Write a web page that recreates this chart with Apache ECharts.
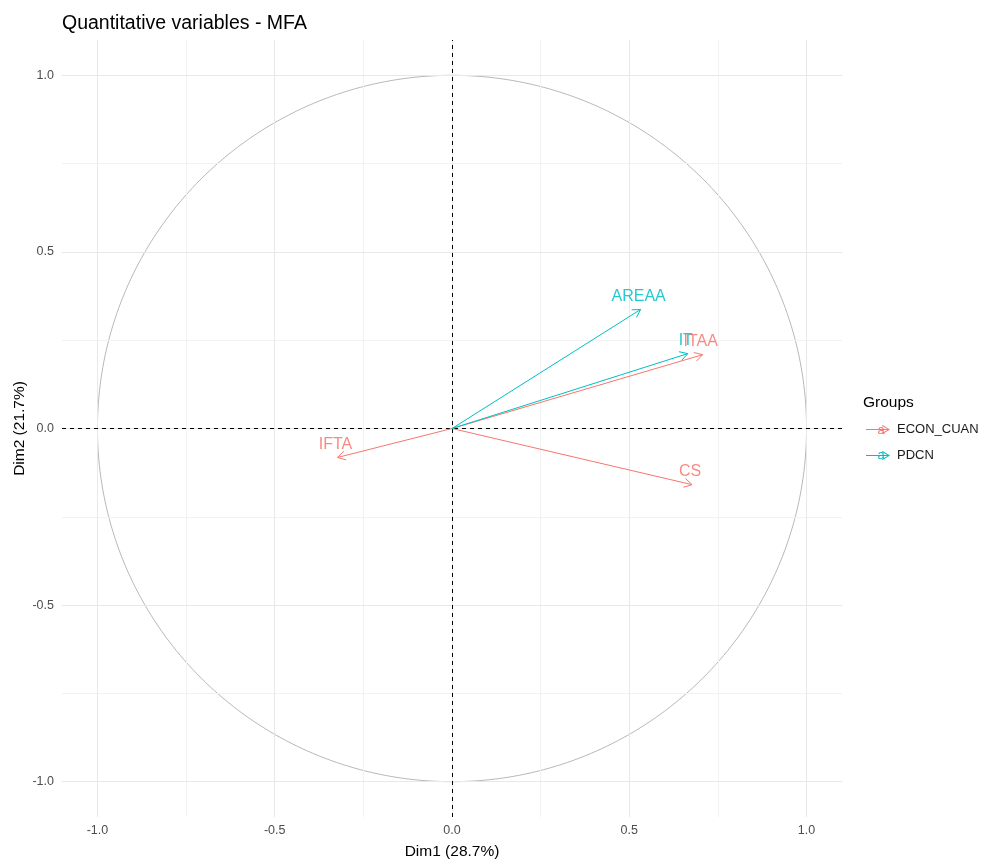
<!DOCTYPE html>
<html>
<head>
<meta charset="utf-8">
<script src="https://cdn.jsdelivr.net/npm/echarts@6/dist/echarts.min.js"></script>
<style>html,body{margin:0;padding:0;background:#fff}#c{width:984px;height:859px}</style>
</head>
<body>
<div id="c"></div>
<script>
// ---- data ----
const groups = ['ECON_CUAN', 'PDCN'];
const groupColors = ['#F8766D', '#00BFC4'];
const econNames = ['ITAA', 'IFTA', 'CS'];
const econDim1 = [0.707, -0.323, 0.677];
const econDim2 = [0.209, -0.082, -0.159];
const pdcnNames = ['AREAA', 'IT'];
const pdcnDim1 = [0.532, 0.665];
const pdcnDim2 = [0.337, 0.212];
const majorTicks = [-1, -0.5, 0, 0.5, 1];
const minorTicks = [-0.75, -0.25, 0.25, 0.75];
const tickLabels = ['-1.0', '-0.5', '0.0', '0.5', '1.0'];
const axisMin = -1.1, axisMax = 1.1;

const font = 'Liberation Sans, Arial, sans-serif';

function arrowSeries(name, color, names, d1, d2) {
  return {
    name: name,
    type: 'custom',
    coordinateSystem: 'cartesian2d',
    itemStyle: { color: color },
    z: 10,
    data: names.map((n, i) => [d1[i], d2[i], n]),
    renderItem: function (params, api) {
      const s = api.coord([0, 0]);
      const e = api.coord([api.value(0), api.value(1)]);
      const ang = Math.atan2(e[1] - s[1], e[0] - s[0]);
      const L = 9, a = Math.PI / 6;
      const h1 = [e[0] - L * Math.cos(ang - a), e[1] - L * Math.sin(ang - a)];
      const h2 = [e[0] - L * Math.cos(ang + a), e[1] - L * Math.sin(ang + a)];
      const label = names[params.dataIndex];
      return {
        type: 'group',
        children: [
          { type: 'line', shape: { x1: s[0], y1: s[1], x2: e[0], y2: e[1] }, style: { stroke: color, lineWidth: 1 } },
          { type: 'polyline', shape: { points: [h1, e, h2] }, style: { stroke: color, lineWidth: 1, fill: null } },
          { type: 'text', x: e[0] - 2, y: e[1] - 5, style: { text: label, fill: color, opacity: 0.85, font: '16px ' + font, align: 'center', verticalAlign: 'bottom' } }
        ]
      };
    }
  };
}

function gridLines(vals, color) {
  const d = [];
  vals.forEach(v => { d.push({ xAxis: v }); d.push({ yAxis: v }); });
  return {
    type: 'line', data: [], silent: true, z: 1,
    markLine: { silent: true, symbol: 'none', label: { show: false }, animation: false,
      lineStyle: { color: color, width: 1, type: 'solid' }, data: d }
  };
}

const circle = [];
for (let i = 0; i <= 360; i++) {
  const t = i * Math.PI / 180;
  circle.push([Math.cos(t), Math.sin(t)]);
}

const arrowIcon = 'path://M0,5.5 L23,5.5 L23,6.5 L0,6.5 Z M16.5,1.6 L24,6 L16.5,10.4 L16,9.6 L22.4,6 L16,2.4 Z';

const chart = echarts.init(document.getElementById('c'), null, { renderer: 'canvas' });
chart.setOption({
  animation: false,
  backgroundColor: '#ffffff',
  title: [
    { text: 'Quantitative variables - MFA', left: 57, top: 9, textStyle: { fontFamily: font, fontSize: 19.5, fontWeight: 'normal', color: '#000' } },
    { text: 'Groups', left: 858, top: 390, textStyle: { fontFamily: font, fontSize: 15.5, fontWeight: 'normal', color: '#000' } }
  ],
  legend: {
    data: groups,
    orient: 'vertical',
    left: 861, top: 418,
    itemWidth: 24, itemHeight: 12, itemGap: 13,
    icon: arrowIcon,
    textStyle: { fontFamily: font, fontSize: 13, color: '#1a1a1a', padding: [0, 0, 0, 2] },
    selectedMode: false
  },
  graphic: groups.map((g, i) => ({
    type: 'text', x: 881, y: 430 + i * 25, z: 100,
    style: { text: 'a', fill: groupColors[i], font: '13px ' + font, align: 'center', verticalAlign: 'middle' }
  })),
  grid: { left: 62, right: 142, top: 40, bottom: 42, containLabel: false, outerBoundsMode: 'none' },
  xAxis: {
    type: 'value', min: axisMin, max: axisMax,
    name: 'Dim1 (28.7%)', nameLocation: 'middle', nameGap: 27, nameMoveOverlap: false,
    nameTextStyle: { fontFamily: font, fontSize: 15.5, color: '#000' },
    axisLine: { show: false },
    axisTick: { show: true, length: 4, customValues: majorTicks, lineStyle: { color: '#333' } },
    axisLabel: { customValues: majorTicks, margin: 7, fontFamily: font, fontSize: 12.5, color: '#4d4d4d',
      formatter: v => tickLabels[majorTicks.indexOf(v)] ?? v.toFixed(1) },
    splitLine: { show: false }
  },
  yAxis: {
    type: 'value', min: axisMin, max: axisMax,
    name: 'Dim2 (21.7%)', nameLocation: 'middle', nameGap: 34, nameRotate: 90, nameMoveOverlap: false,
    nameTextStyle: { fontFamily: font, fontSize: 15.5, color: '#000' },
    axisLine: { show: false },
    axisTick: { show: true, length: 4, customValues: majorTicks, lineStyle: { color: '#333' } },
    axisLabel: { customValues: majorTicks, margin: 8, fontFamily: font, fontSize: 12.5, color: '#4d4d4d',
      formatter: v => tickLabels[majorTicks.indexOf(v)] ?? v.toFixed(1) },
    splitLine: { show: false }
  },
  series: [
    gridLines(minorTicks, '#f2f2f2'),
    gridLines(majorTicks, '#e8e8e8'),
    {
      type: 'line', data: circle, showSymbol: false, silent: true, z: 3,
      lineStyle: { color: '#a6a6a6', width: 0.8 }
    },
    {
      type: 'line', data: [], silent: true, z: 4,
      markLine: { silent: true, symbol: 'none', label: { show: false }, animation: false,
        lineStyle: { color: '#000', width: 1, type: [4, 4] },
        data: [{ xAxis: 0 }, { yAxis: 0 }] }
    },
    arrowSeries(groups[0], groupColors[0], econNames, econDim1, econDim2),
    arrowSeries(groups[1], groupColors[1], pdcnNames, pdcnDim1, pdcnDim2)
  ]
});
</script>
</body>
</html>
